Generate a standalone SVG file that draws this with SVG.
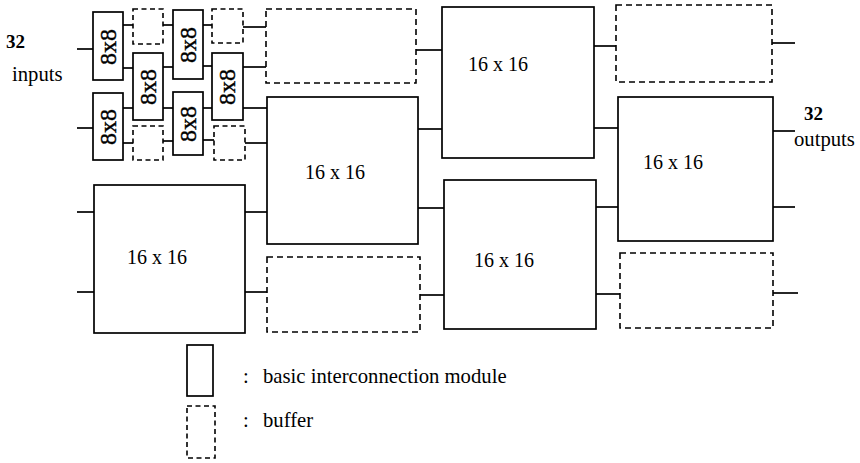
<svg xmlns="http://www.w3.org/2000/svg" width="860" height="463" viewBox="0 0 860 463">
<style>
.mod{fill:#fff;stroke:#000;stroke-width:1.7}
.buf{fill:#fff;stroke:#000;stroke-width:1.6;stroke-dasharray:6 4}
.sbuf{fill:#fff;stroke:#000;stroke-width:1.6;stroke-dasharray:5 3.5}
.lbl{font-family:"Liberation Serif","Times New Roman",serif;font-size:20px;fill:#000}
.leg{font-family:"Liberation Serif","Times New Roman",serif;font-size:20.7px;fill:#000}
.s8{font-family:"Liberation Serif","Times New Roman",serif;font-size:24px;fill:#000;stroke:#000;stroke-width:0.4}
.hd{font-family:"Liberation Serif","Times New Roman",serif;font-size:19px;font-weight:bold;fill:#000}
#connectors line{stroke:#000;stroke-width:1.7}
</style>
<rect width="860" height="463" fill="#fff"/>
<g id="connectors">
<line x1="77" y1="49" x2="93" y2="49"/>
<line x1="77" y1="128" x2="93" y2="128"/>
<line x1="77" y1="212" x2="94" y2="212"/>
<line x1="77" y1="292" x2="94" y2="292"/>
<line x1="123" y1="25" x2="133" y2="25"/>
<line x1="123" y1="68" x2="133" y2="68"/>
<line x1="123" y1="108" x2="133" y2="108"/>
<line x1="123" y1="143" x2="133" y2="143"/>
<line x1="163" y1="25" x2="173" y2="25"/>
<line x1="163" y1="67" x2="173" y2="67"/>
<line x1="163" y1="108" x2="173" y2="108"/>
<line x1="163" y1="141" x2="173" y2="141"/>
<line x1="203" y1="25" x2="212" y2="25"/>
<line x1="203" y1="66" x2="212" y2="66"/>
<line x1="203" y1="108" x2="212" y2="108"/>
<line x1="203" y1="140" x2="214" y2="140"/>
<line x1="243" y1="27" x2="266" y2="27"/>
<line x1="243" y1="67" x2="266" y2="67"/>
<line x1="243" y1="108" x2="267" y2="108"/>
<line x1="245" y1="143" x2="267" y2="143"/>
<line x1="245" y1="212" x2="267" y2="212"/>
<line x1="245" y1="292" x2="267" y2="292"/>
<line x1="416" y1="50" x2="442" y2="50"/>
<line x1="418" y1="129" x2="442" y2="129"/>
<line x1="418" y1="208" x2="444" y2="208"/>
<line x1="420" y1="295" x2="444" y2="295"/>
<line x1="594" y1="46" x2="616" y2="46"/>
<line x1="594" y1="128" x2="618" y2="128"/>
<line x1="596" y1="207" x2="618" y2="207"/>
<line x1="596" y1="294" x2="620" y2="294"/>
<line x1="772" y1="43" x2="795" y2="43"/>
<line x1="773" y1="131" x2="795" y2="131"/>
<line x1="773" y1="207" x2="795" y2="207"/>
<line x1="773" y1="293" x2="798" y2="293"/>
</g>
<g id="mA"><rect class="mod" x="93" y="12" width="30" height="68"/><text class="s8" transform="translate(116,47) rotate(-90)" text-anchor="middle">8x8</text></g>
<g id="mB"><rect class="mod" x="93" y="93" width="30" height="67"/><text class="s8" transform="translate(116,127) rotate(-90)" text-anchor="middle">8x8</text></g>
<g id="mC"><rect class="mod" x="133" y="53" width="30" height="67"/><text class="s8" transform="translate(156,87) rotate(-90)" text-anchor="middle">8x8</text></g>
<g id="mD"><rect class="mod" x="173" y="10" width="30" height="69"/><text class="s8" transform="translate(196,45) rotate(-90)" text-anchor="middle">8x8</text></g>
<g id="mE"><rect class="mod" x="173" y="92" width="30" height="63"/><text class="s8" transform="translate(196,124) rotate(-90)" text-anchor="middle">8x8</text></g>
<g id="mF"><rect class="mod" x="212" y="53" width="31" height="67"/><text class="s8" transform="translate(235,87) rotate(-90)" text-anchor="middle">8x8</text></g>
<g id="b1"><rect class="sbuf" x="133" y="9" width="30" height="35"/></g>
<g id="b2"><rect class="sbuf" x="133" y="126" width="30" height="34"/></g>
<g id="b3"><rect class="sbuf" x="212" y="9" width="31" height="34"/></g>
<g id="b4"><rect class="sbuf" x="214" y="126" width="31" height="34"/></g>
<g id="M0"><rect class="mod" x="94" y="185" width="151" height="148"/><text class="lbl" x="157" y="264" text-anchor="middle">16 x 16</text></g>
<g id="M1"><rect class="mod" x="267" y="97" width="151" height="147"/><text class="lbl" x="335" y="179" text-anchor="middle">16 x 16</text></g>
<g id="M2"><rect class="mod" x="442" y="7" width="152" height="151"/><text class="lbl" x="498" y="71" text-anchor="middle">16 x 16</text></g>
<g id="M3"><rect class="mod" x="444" y="180" width="152" height="149"/><text class="lbl" x="504" y="267" text-anchor="middle">16 x 16</text></g>
<g id="M4"><rect class="mod" x="618" y="97" width="155" height="144"/><text class="lbl" x="673" y="169" text-anchor="middle">16 x 16</text></g>
<g id="BB1"><rect class="buf" x="266" y="9" width="150" height="74"/></g>
<g id="BB2"><rect class="buf" x="267" y="257" width="153" height="75"/></g>
<g id="BB3"><rect class="buf" x="616" y="5" width="156" height="77"/></g>
<g id="BB4"><rect class="buf" x="620" y="253" width="153" height="75"/></g>
<g id="inputs"><text class="hd" x="6" y="48">32</text><text class="leg" x="12" y="81">inputs</text></g>
<g id="outputs"><text class="hd" x="804" y="120">32</text><text class="leg" x="794" y="146">outputs</text></g>
<g id="legend">
<rect class="mod" x="187" y="345" width="26" height="51"/>
<text class="leg" x="243" y="383">:<tspan x="263">basic interconnection module</tspan></text>
<rect class="sbuf" x="187" y="406" width="28" height="52"/>
<text class="leg" x="243" y="427">:<tspan x="263">buffer</tspan></text>
</g>
</svg>
